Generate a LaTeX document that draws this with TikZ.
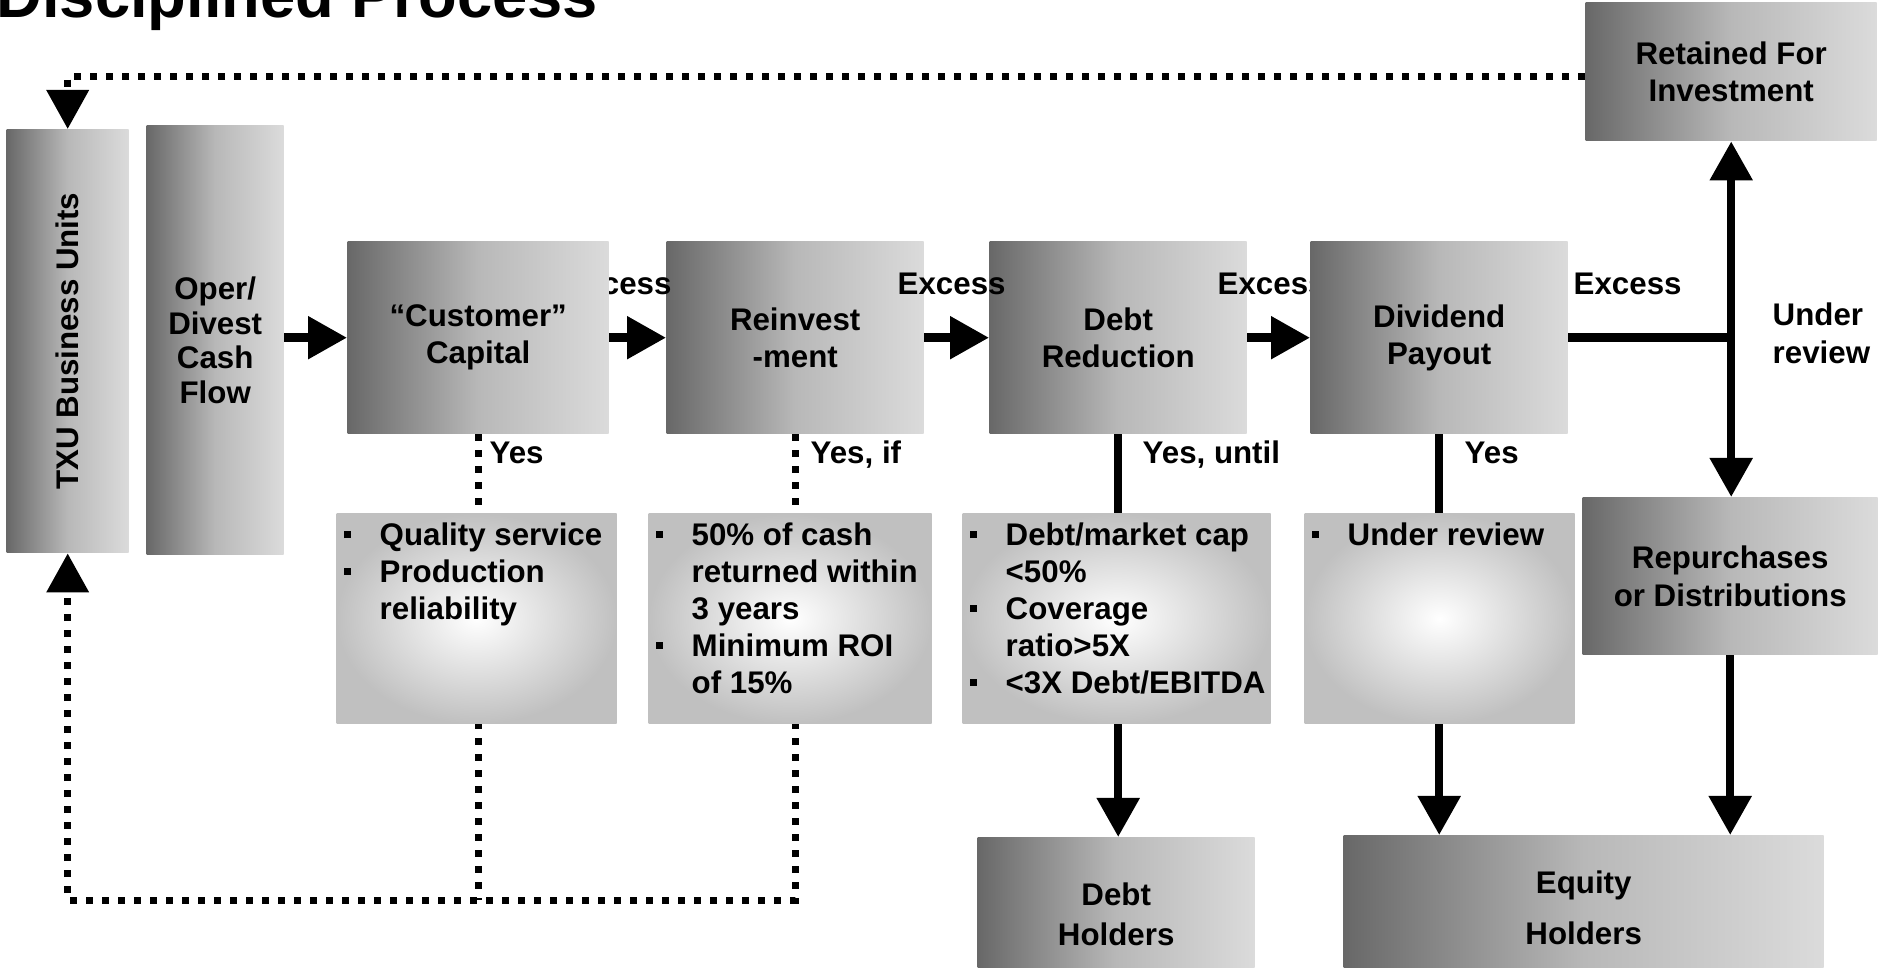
\documentclass[tikz,border=0pt]{standalone}
\usepackage{fontspec}
\setmainfont{Liberation Sans}
\usepackage{graphicx}
\usetikzlibrary{arrows.meta,positioning}

\definecolor{boxdark}{RGB}{104,104,104}
\definecolor{boxmid}{RGB}{184,184,184}
\definecolor{boxlight}{RGB}{219,219,219}
\definecolor{critgrey}{RGB}{192,192,192}

\newcommand{\sqbul}{\rule[0.24em]{0.22em}{0.22em}}
\newcommand{\critlist}[1]{\begin{tabular}{@{}p{0.36cm}@{}l@{}}#1\end{tabular}}

\tikzset{%
  base/.style    = {inner sep=0pt, font=\bfseries\fontsize{8.9}{10.5}\selectfont},%
  block/.style   = {base, rectangle, anchor=north west, align=center,%
                    left color=boxdark, right color=boxlight, middle color=boxmid},%
  crit/.style    = {rectangle, anchor=north west, inner color=white, outer color=critgrey},%
  note/.style    = {base, anchor=base west},%
  flow/.style    = {line width=0.85mm, ->},%
  flowline/.style= {line width=0.85mm},%
  dotline/.style = {line width=0.7mm, dash pattern=on 0.7mm off 0.9mm}%
}

\begin{document}
\begin{tikzpicture}[>={Triangle[length=3.9mm,width=4.1mm]}]
\useasboundingbox[fill=white] (0,0) rectangle (18.79,-9.68);

\node[anchor=base west, inner sep=0pt, font=\bfseries\fontsize{18}{20}\selectfont] (title) at (-0.04,-0.18) {Disciplined Process};

% left column
\node[block, minimum width=1.22cm, minimum height=4.23cm] (txu) at (0.06,-1.29) {\rotatebox{90}{TXU Business Units}};
\node[block, minimum width=1.37cm, minimum height=4.29cm, font=\bfseries\fontsize{8.9}{9.8}\selectfont] (oper) at (1.46,-1.25) {Oper/\\Divest\\Cash\\Flow};

% main row (order matters: the Excess labels sit between the boxes)
\node[block, minimum width=2.57cm, minimum height=1.92cm] (reinv) at (6.66,-2.41) {Reinvest\\-ment};
\node[block, minimum width=2.57cm, minimum height=1.92cm] (debtred) at (9.89,-2.41) {Debt\\Reduction};
\node[note] (ex1) at (5.63,-2.95) {Excess};
\node[note] (ex2) at (8.97,-2.95) {Excess};
\node[note] (ex3) at (12.17,-2.95) {Excess};
\node[block, minimum width=2.61cm, minimum height=1.92cm] (cust) at (3.47,-2.41) {“Customer”\\Capital};
\node[block, minimum width=2.57cm, minimum height=1.92cm] (divid) at (13.10,-2.41) {Dividend\\Payout};
\node[note] (ex4) at (15.73,-2.95) {Excess};

% right side and holders
\node[block, minimum width=2.91cm, minimum height=1.38cm] (retained) at (15.85,-0.02) {Retained For\\Investment};
\node[block, minimum width=2.95cm, minimum height=1.57cm, font=\bfseries\fontsize{8.9}{10.8}\selectfont] (repurch) at (15.82,-4.97) {Repurchases\\or Distributions};
\node[block, minimum width=2.77cm, minimum height=1.53cm, font=\bfseries\fontsize{8.9}{11.3}\selectfont] (debthold) at (9.77,-8.37) {Debt\\Holders};
\node[block, minimum width=4.80cm, minimum height=1.44cm, font=\bfseries\fontsize{8.9}{14.7}\selectfont] (equity) at (13.43,-8.35) {Equity\\Holders};
\node[note, anchor=west, align=left, font=\bfseries\fontsize{8.9}{10.8}\selectfont] (review) at (17.72,-3.33) {Under\\review};

% flows
\draw[flow] (oper.east |- cust.west) -- (cust.west);
\draw[flow] (cust) -- (reinv);
\draw[flow] (reinv) -- (debtred);
\draw[flow] (debtred) -- (divid);
\draw[flowline] (divid.east) -- (divid.east -| retained.south);
\draw[flow, <->] (retained.south) -- (retained.south |- repurch.north);
\draw[flow] (debtred.south) -- (debtred.south |- debthold.north);
\draw[flow] (divid.south) -- (divid.south |- equity.north);
\draw[flow] (repurch.south) -- (repurch.south |- equity.north);

% cash coming back to the units
\coordinate (toprun) at (0,-0.77);
\coordinate (loop) at (0,-9.00);
\draw[dotline, ->] (retained.west |- toprun) -| (txu.north);
\draw[dotline] (cust.south) -- (cust.south |- loop);
\draw[dotline, ->] (reinv.south) -- (reinv.south |- loop) -| (txu.south);

% criteria
\node[crit, minimum width=2.80cm, minimum height=2.10cm] (crit1) at (3.36,-5.13) {};
\node[crit, minimum width=2.83cm, minimum height=2.10cm] (crit2) at (6.48,-5.13) {};
\node[crit, minimum width=3.08cm, minimum height=2.10cm] (crit3) at (9.62,-5.13) {};
\node[crit, minimum width=2.70cm, minimum height=2.10cm] (crit4) at (13.04,-5.13) {};

\node[base, anchor=north west] (crit1txt) at ([xshift=0.07cm,yshift=-0.06cm]crit1.north west)
  {\critlist{\sqbul & Quality service\\ \sqbul & Production\\ & reliability}};
\node[base, anchor=north west] (crit2txt) at ([xshift=0.07cm,yshift=-0.06cm]crit2.north west)
  {\critlist{\sqbul & 50\% of cash\\ & returned within\\ & 3 years\\ \sqbul & Minimum ROI\\ & of 15\%}};
\node[base, anchor=north west] (crit3txt) at ([xshift=0.07cm,yshift=-0.06cm]crit3.north west)
  {\critlist{\sqbul & Debt/market cap\\ & <50\%\\ \sqbul & Coverage\\ & ratio>5X\\ \sqbul & <3X Debt/EBITDA}};
\node[base, anchor=north west] (crit4txt) at ([xshift=0.07cm,yshift=-0.06cm]crit4.north west)
  {\critlist{\sqbul & Under review}};

\node[note] (yes1) at (4.89,-4.64) {Yes};
\node[note] (yes2) at (8.10,-4.64) {Yes, if};
\node[note] (yes3) at (11.42,-4.64) {Yes, until};
\node[note] (yes4) at (14.64,-4.64) {Yes};
\end{tikzpicture}
\end{document}
